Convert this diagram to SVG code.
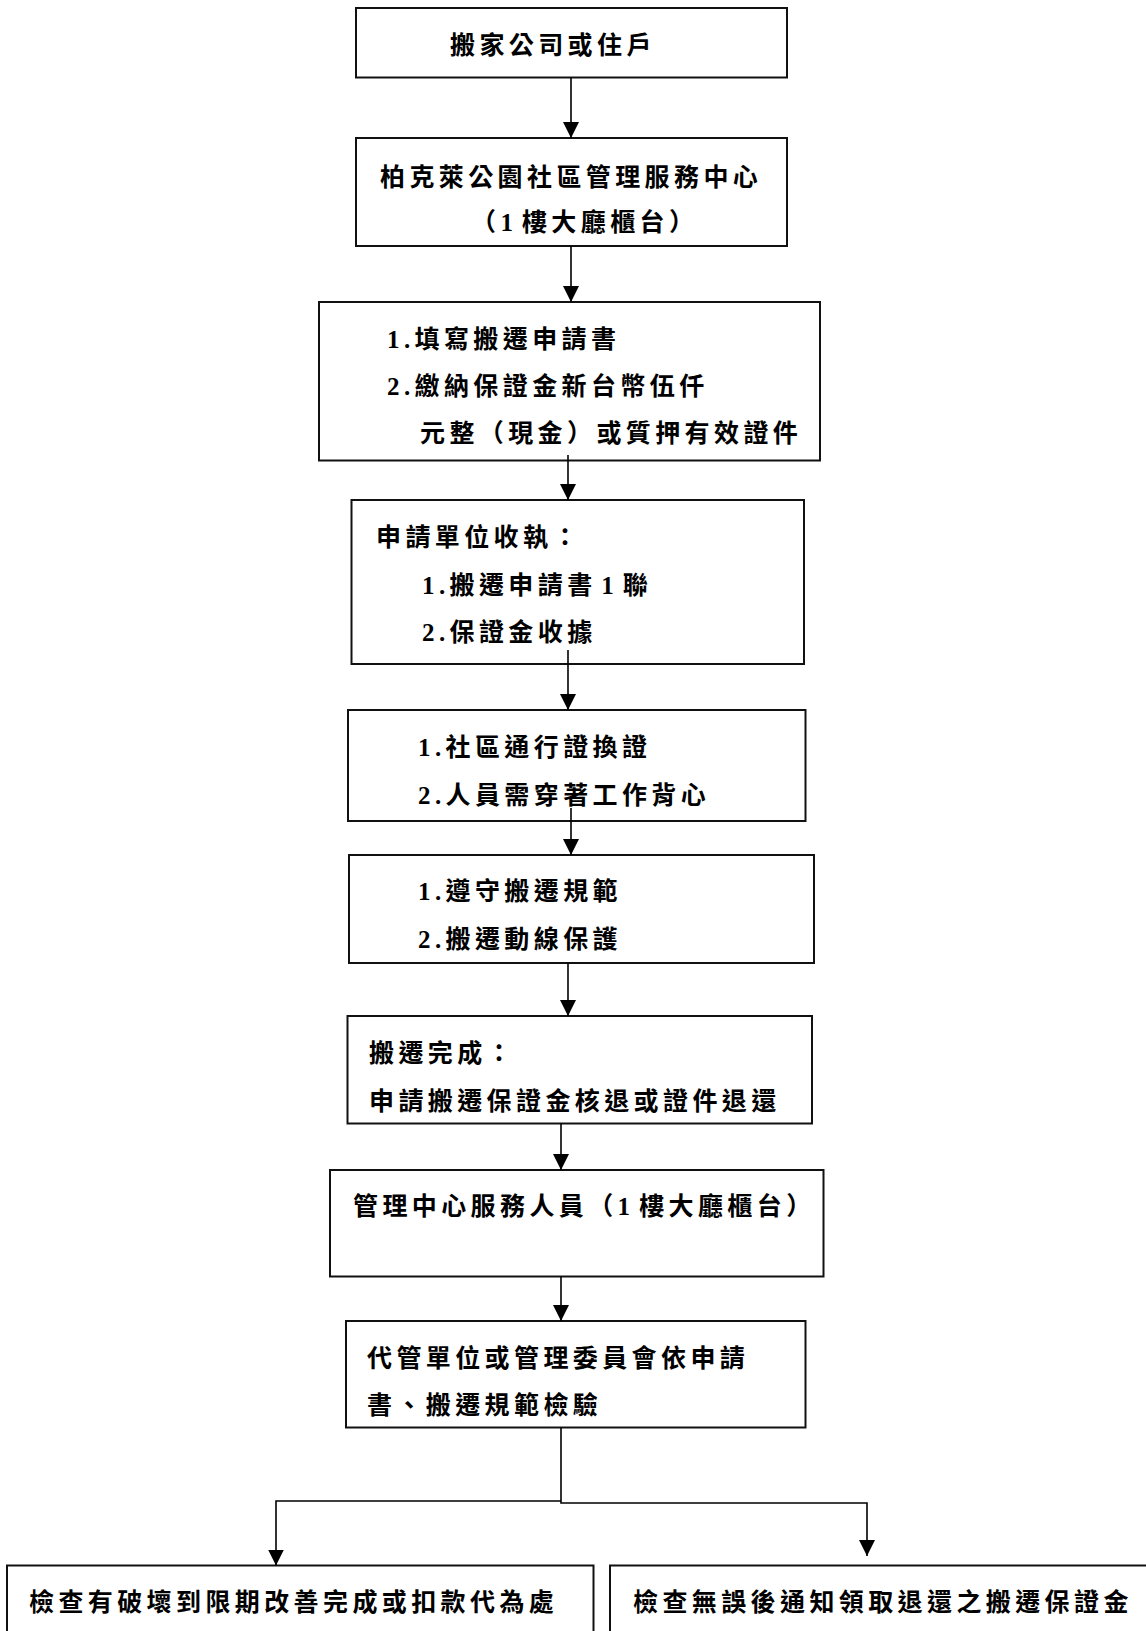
<svg xmlns="http://www.w3.org/2000/svg" width="1146" height="1631" viewBox="0 0 1146 1631">
<defs>
<marker id="ah" markerUnits="userSpaceOnUse" markerWidth="16" markerHeight="16" viewBox="0 0 16 16" refX="16" refY="8" orient="auto">
<path d="M0,0 L16,8 L0,16 Z" fill="#000"/>
</marker>
<style>
.box{fill:#fff;stroke:#111;stroke-width:2}
.t{font-family:"Liberation Serif","Noto Sans CJK TC",serif;font-size:25px;font-weight:bold;letter-spacing:4.4px;fill:#000}
.n{word-spacing:-6px}
.c{fill:none;stroke:#000;stroke-width:1.6}
</style>
</defs>
<rect width="1146" height="1631" fill="#fff"/>
<g id="n1"><rect class="box" x="356" y="8" width="431" height="69.5"/>
<text class="t" x="450" y="53.5">搬家公司或住戶</text></g>
<g id="n2"><rect class="box" x="356" y="138" width="431" height="108"/>
<text class="t" x="380" y="185.5">柏克萊公園社區管理服務中心</text>
<text class="t n" x="471" y="230.5">（1 樓大廳櫃台）</text></g>
<g id="n3"><rect class="box" x="319" y="302" width="501" height="158.5"/>
<text class="t" x="387" y="347.5">1.填寫搬遷申請書</text>
<text class="t" x="387" y="394.5">2.繳納保證金新台幣伍仟</text>
<text class="t" x="420" y="441.5">元整（現金）或質押有效證件</text></g>
<g id="n4"><rect class="box" x="351.5" y="500" width="452.5" height="164"/>
<text class="t" x="376" y="545.5">申請單位收執：</text>
<text class="t n" x="422" y="593.5">1.搬遷申請書 1 聯</text>
<text class="t" x="422" y="640.5">2.保證金收據</text></g>
<g id="n5"><rect class="box" x="348" y="710" width="457.5" height="111"/>
<text class="t" x="418" y="755.5">1.社區通行證換證</text>
<text class="t" x="418" y="803.5">2.人員需穿著工作背心</text></g>
<g id="n6"><rect class="box" x="349" y="855" width="465" height="108"/>
<text class="t" x="418" y="899.5">1.遵守搬遷規範</text>
<text class="t" x="418" y="947.5">2.搬遷動線保護</text></g>
<g id="n7"><rect class="box" x="347.5" y="1016" width="464.5" height="107.5"/>
<text class="t" x="369" y="1061.5">搬遷完成：</text>
<text class="t" x="369" y="1109.5">申請搬遷保證金核退或證件退還</text></g>
<g id="n8"><rect class="box" x="330" y="1170" width="493.5" height="106.5"/>
<text class="t n" x="353" y="1214.5">管理中心服務人員（1 樓大廳櫃台）</text></g>
<g id="n9"><rect class="box" x="346" y="1321" width="459.5" height="106.5"/>
<text class="t" x="367" y="1366.5">代管單位或管理委員會依申請</text>
<text class="t" x="367" y="1413.5">書、搬遷規範檢驗</text></g>
<g id="n10"><rect class="box" x="7" y="1565.5" width="586.5" height="80"/>
<text class="t" x="29" y="1610.5">檢查有破壞到限期改善完成或扣款代為處</text></g>
<g id="n11"><rect class="box" x="610" y="1565.5" width="545" height="80"/>
<text class="t" x="633" y="1610.5">檢查無誤後通知領取退還之搬遷保證金</text></g>
<g id="connectors">
<line class="c" x1="571" y1="77.5" x2="571" y2="138" marker-end="url(#ah)"/>
<line class="c" x1="571" y1="246" x2="571" y2="302" marker-end="url(#ah)"/>
<line class="c" x1="568" y1="455" x2="568" y2="500" marker-end="url(#ah)"/>
<line class="c" x1="568" y1="650" x2="568" y2="710" marker-end="url(#ah)"/>
<line class="c" x1="571" y1="808" x2="571" y2="855" marker-end="url(#ah)"/>
<line class="c" x1="568" y1="963" x2="568" y2="1016" marker-end="url(#ah)"/>
<line class="c" x1="561" y1="1123.5" x2="561" y2="1170" marker-end="url(#ah)"/>
<line class="c" x1="561" y1="1276.5" x2="561" y2="1321" marker-end="url(#ah)"/>
<polyline class="c" points="561,1427.5 561,1503 867,1503 867,1556" marker-end="url(#ah)"/>
<polyline class="c" points="561,1501 276,1501 276,1565.5" marker-end="url(#ah)"/>
</g>
</svg>
